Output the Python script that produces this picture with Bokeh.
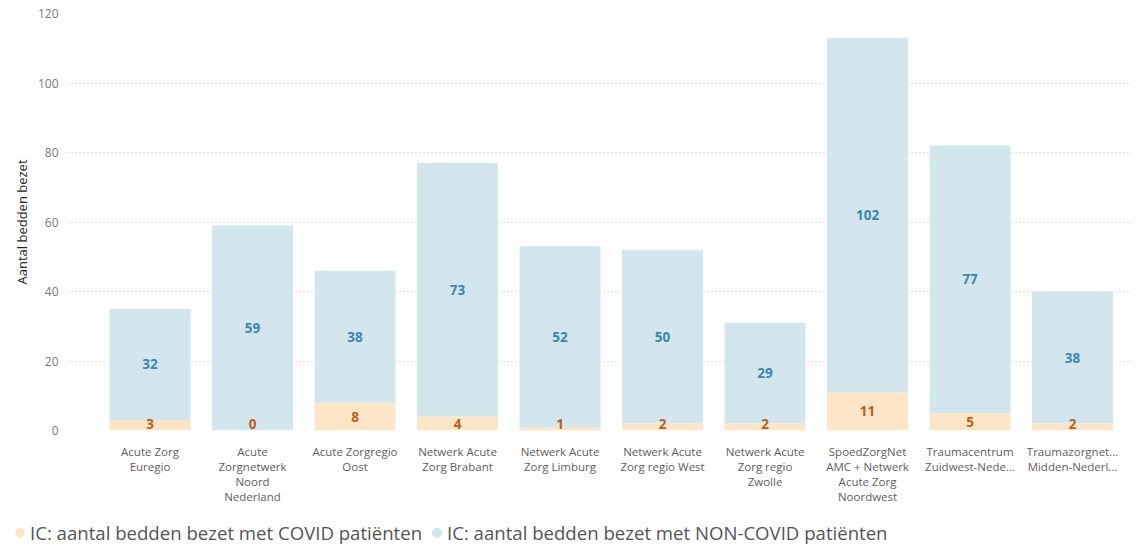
from bokeh.plotting import figure
from bokeh.models import ColumnDataSource, Range1d, FixedTicker, LinearAxis, Div
from bokeh.layouts import column
from bokeh.embed import file_html
from bokeh.resources import INLINE
from bokeh.core.properties import value

regions = [
    "Acute Zorg\nEuregio",
    "Acute\nZorgnetwerk\nNoord\nNederland",
    "Acute Zorgregio\nOost",
    "Netwerk Acute\nZorg Brabant",
    "Netwerk Acute\nZorg Limburg",
    "Netwerk Acute\nZorg regio West",
    "Netwerk Acute\nZorg regio\nZwolle",
    "SpoedZorgNet\nAMC + Netwerk\nAcute Zorg\nNoordwest",
    "Traumacentrum\nZuidwest-Nede...",
    "Traumazorgnet...\nMidden-Nederl...",
]
covid = [3, 0, 8, 4, 1, 2, 2, 11, 5, 2]
non_covid = [32, 59, 38, 73, 52, 50, 29, 102, 77, 38]
y_ticks = [0, 20, 40, 60, 80, 100, 120]
legend_labels = ["IC: aantal bedden bezet met COVID patiënten",
                 "IC: aantal bedden bezet met NON-COVID patiënten"]

FONT = "Open Sans"
C_COVID = "#FCE6C7"
C_NON = "#D3E6EE"
L_COVID = "#BA5E22"
L_NON = "#3C86AE"
W = 1132

xs = list(range(len(regions)))
totals = [a + b for a, b in zip(covid, non_covid)]
src = ColumnDataSource(dict(
    x=xs,
    covid=covid,
    non=non_covid,
    total=totals,
    covid_lbl=[str(v) for v in covid],
    non_lbl=[str(v) for v in non_covid],
    covid_y=[max(v / 2, 1.8) for v in covid],
    non_y=[c + n / 2 for c, n in zip(covid, non_covid)],
    zero=[0] * len(xs),
))

p = figure(width=W, height=520, output_backend="svg", toolbar_location=None,
           x_range=Range1d(-0.805, 9.585), y_range=Range1d(0, 120),
           min_border_left=67, min_border_right=0, min_border_top=13,
           min_border_bottom=90)
p.outline_line_color = None
p.background_fill_color = "white"

p.vbar(x="x", bottom="zero", top="covid", width=0.79, source=src,
       fill_color=C_COVID, line_color=None)
p.vbar(x="x", bottom="covid", top="total", width=0.79, source=src,
       fill_color=C_NON, line_color=None)

p.text(x="x", y="covid_y", text="covid_lbl", source=src, text_align="center",
       text_baseline="middle", text_font=value(FONT), text_font_size="13.5px",
       text_font_style="bold", text_color=L_COVID)
p.text(x="x", y="non_y", text="non_lbl", source=src, text_align="center",
       text_baseline="middle", text_font=value(FONT), text_font_size="13.5px",
       text_font_style="bold", text_color=L_NON)

# x axis: one axis per text line of the category labels
split = [r.split("\n") for r in regions]
n_lines = max(len(s) for s in split)


def style_x(ax, standoff):
    ax.ticker = FixedTicker(ticks=xs)
    ax.axis_line_color = None
    ax.major_tick_line_color = None
    ax.minor_tick_line_color = None
    ax.major_tick_out = 0
    ax.major_tick_in = 0
    ax.minor_tick_out = 0
    ax.major_label_text_font = FONT
    ax.major_label_text_font_size = "11.5px"
    ax.major_label_text_color = "#605E5C"
    ax.major_label_standoff = standoff


for li in range(n_lines):
    overrides = {i: (s[li] if li < len(s) else " ") for i, s in enumerate(split)}
    if li == 0:
        ax = p.xaxis[0]
    else:
        ax = LinearAxis()
        p.add_layout(ax, "below")
    style_x(ax, 13 if li == 0 else -3)
    ax.major_label_overrides = overrides

p.yaxis.ticker = FixedTicker(ticks=y_ticks)
p.yaxis.axis_line_color = None
p.yaxis.major_tick_line_color = None
p.yaxis.minor_tick_line_color = None
p.yaxis.major_tick_out = 0
p.yaxis.minor_tick_out = 0
p.yaxis.major_label_text_font = FONT
p.yaxis.major_label_text_font_size = "12px"
p.yaxis.major_label_text_color = "#777777"
p.yaxis.major_label_standoff = 9
p.yaxis.axis_label = "Aantal bedden bezet"
p.yaxis.axis_label_text_font = FONT
p.yaxis.axis_label_text_font_size = "13px"
p.yaxis.axis_label_text_font_style = "normal"
p.yaxis.axis_label_text_color = "#252423"
p.yaxis.axis_label_standoff = 4

p.xgrid.grid_line_color = None
p.ygrid.grid_line_color = "#C8C8C8"
p.ygrid.grid_line_dash = "1 3"
p.ygrid.grid_line_width = 1

# legend strip as HTML
legend_colors = [C_COVID, C_NON]
dot_left = [15, 432]
parts = []
for dl, col, txt in zip(dot_left, legend_colors, legend_labels):
    parts.append(
        f'<span style="position:absolute;left:{dl}px;top:8px;width:10px;height:10px;'
        f'border-radius:50%;background:{col};"></span>'
        f'<span style="position:absolute;left:{dl + 15}px;top:0px;">{txt}</span>'
    )
html = (f'<div style="position:relative;width:{W}px;height:26px;'
        f"font-family:'Open Sans';font-size:18.6px;line-height:26px;color:#555555;"
        f'white-space:nowrap;">' + "".join(parts) + "</div>")
lg = Div(text=html, width=W, height=26, margin=(0, 0, 0, 0))

layout = column(p, lg, spacing=0)
open("out.html", "w").write(file_html(layout, INLINE))
